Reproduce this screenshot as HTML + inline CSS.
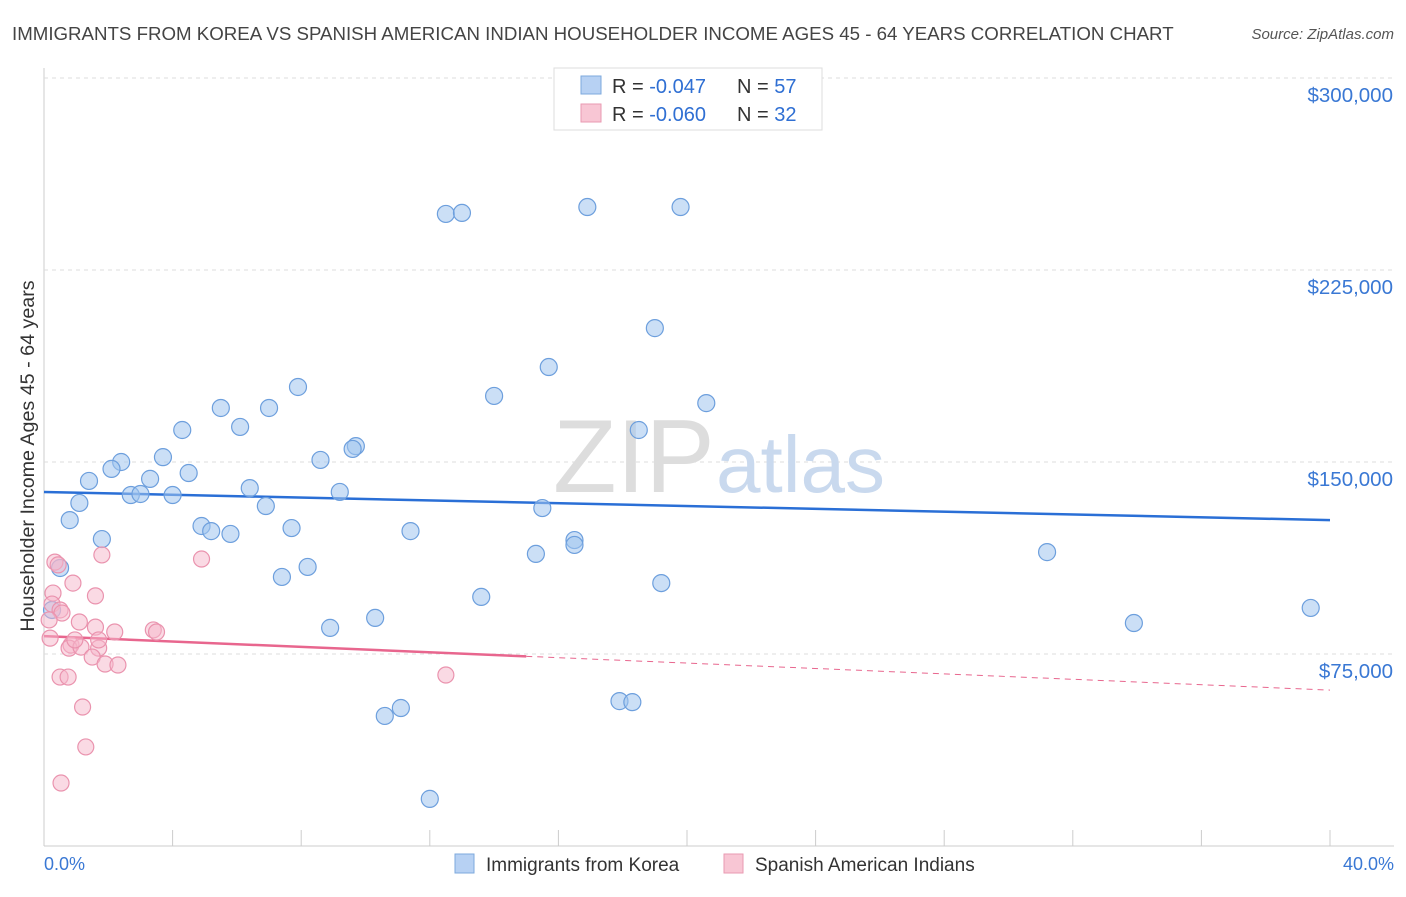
<!DOCTYPE html>
<html><head><meta charset="utf-8"><style>
body{margin:0;background:#fff;font-family:"Liberation Sans",sans-serif;}
svg text{font-family:"Liberation Sans",sans-serif;}
</style></head><body>
<svg id="chart" width="1406" height="892">
<text x="12" y="40" font-size="18.7" fill="#444">IMMIGRANTS FROM KOREA VS SPANISH AMERICAN INDIAN HOUSEHOLDER INCOME AGES 45 - 64 YEARS CORRELATION CHART</text>
<text x="1394" y="39" font-size="15" fill="#555" font-style="italic" text-anchor="end">Source: ZipAtlas.com</text>
<text x="0" y="0" transform="translate(34,456) rotate(-90)" font-size="19.7" fill="#333" text-anchor="middle">Householder Income Ages 45 - 64 years</text>
<g id="grid"></g>
<g id="wm"><text x="553" y="492" font-size="104" fill="#ddd" font-family="Liberation Serif">ZIP</text><text x="716" y="492" font-size="80" fill="#c9d9ee">atlas</text></g>
<g id="trend"></g>
<g id="pts"></g>
<g>
<rect x="554" y="68" width="268" height="62" fill="#fff" stroke="#ddd"/>
<rect x="581" y="76" width="20" height="18" fill="#b7d1f3" stroke="#7ea9dd"/>
<text x="612" y="93" font-size="20" fill="#333">R = <tspan fill="#2f6fd3">-0.047</tspan></text>
<text x="737" y="93" font-size="20" fill="#333">N = <tspan fill="#2f6fd3">57</tspan></text>
<rect x="581" y="104" width="20" height="18" fill="#f8c6d4" stroke="#e99ab2"/>
<text x="612" y="121" font-size="20" fill="#333">R = <tspan fill="#2f6fd3">-0.060</tspan></text>
<text x="737" y="121" font-size="20" fill="#333">N = <tspan fill="#2f6fd3">32</tspan></text>
</g>
<g>
<rect x="455" y="854" width="19" height="19" fill="#b7d1f3" stroke="#7ea9dd"/>
<text x="486" y="871" font-size="19" fill="#333">Immigrants from Korea</text>
<rect x="724" y="854" width="19" height="19" fill="#f8c6d4" stroke="#e99ab2"/>
<text x="755" y="871" font-size="19" fill="#333">Spanish American Indians</text>
</g>
<text x="44" y="870" font-size="18" fill="#3a78d4">0.0%</text>
<text x="1394" y="870" font-size="18" fill="#3a78d4" text-anchor="end">40.0%</text>
</svg>
<script>
const yTicks=[75000,150000,225000,300000];
const yTickLabels=["$75,000","$150,000","$225,000","$300,000"];
const koreaX=[12.5,13.0,16.9,19.8,19.0,15.7,14.0,20.6,7.9,5.5,7.0,4.3,6.1,18.5,9.7,9.6,8.6,3.7,2.4,2.1,4.5,3.3,1.4,2.7,3.0,4.0,6.4,9.2,1.1,6.9,15.5,0.8,4.9,5.2,5.8,7.7,11.4,1.8,16.5,16.5,15.3,31.2,0.5,8.2,7.4,19.2,13.6,39.4,10.3,33.9,8.9,0.25,11.1,10.6,17.9,18.3,12.0];
const koreaY=[246.9,247.3,249.6,249.6,202.3,187.1,175.8,173.0,179.3,171.1,171.1,162.5,163.7,162.5,156.2,155.1,150.8,151.9,150.0,147.3,145.7,143.4,142.6,137.1,137.5,137.1,139.8,138.3,134.0,132.8,132.0,127.3,125.0,123.0,121.9,124.2,123.0,119.9,119.5,117.6,114.1,114.8,108.6,109.0,105.1,102.7,97.3,93.0,89.1,87.1,85.2,92.2,53.9,50.8,56.6,56.2,18.4];
const spanX=[0.34,0.44,1.8,4.9,0.9,0.28,1.6,0.25,0.5,1.1,1.6,2.2,3.4,3.5,0.19,0.84,0.78,1.15,1.7,1.5,1.9,2.3,0.5,0.75,12.5,1.2,1.3,0.53,0.56,0.16,0.96,1.7];
const spanY=[110.9,109.8,113.7,112.1,102.7,98.8,97.7,94.5,92.2,87.5,85.5,83.6,84.4,83.6,81.2,78.5,77.3,77.7,77.3,73.8,71.1,70.7,66.0,66.0,66.8,54.3,38.7,24.6,91.0,88.3,80.5,80.5];
const koreaTrend=[138.3,127.3];
const spanTrend=[82.0,60.9];
const spanSolidEnd=15.0;
const NS="http://www.w3.org/2000/svg";
const xs=v=>44+v/40*1286;
const ys=v=>846-v/75*192;
function mk(t,a,p){const e=document.createElementNS(NS,t);for(const k in a)e.setAttribute(k,a[k]);document.getElementById(p).appendChild(e);return e;}
let ax=mk('line',{x1:44,y1:68,x2:44,y2:846,stroke:'#ccc'},'grid');


let bx=mk('line',{x1:44,y1:846,x2:1394,y2:846,stroke:'#ccc'},'grid');


for(let i=1;i<=10;i++){const t=mk('line',{x1:xs(i*4),y1:830,x2:xs(i*4),y2:846,stroke:'#ccc'},'grid');

}
yTicks.forEach((v,i)=>{const y=ys(v/1000);
const g=mk('line',{x1:44,y1:y,x2:1394,y2:y,stroke:'#ddd','stroke-dasharray':'4,4'},'grid');


const t=mk('text',{x:1393,y:y+24,'font-size':20.5,fill:'#3a78d4','text-anchor':'end'},'grid');t.textContent=yTickLabels[i];

});
let l1=mk('line',{x1:xs(0),y1:ys(koreaTrend[0]),x2:xs(40),y2:ys(koreaTrend[1]),stroke:'#2a6fd6','stroke-width':2.5},'trend');


const sy=v=>spanTrend[0]+(spanTrend[1]-spanTrend[0])*v/40;
let l2=mk('line',{x1:xs(0),y1:ys(sy(0)),x2:xs(spanSolidEnd),y2:ys(sy(spanSolidEnd)),stroke:'#e8668e','stroke-width':2.5},'trend');


let l3=mk('line',{x1:xs(spanSolidEnd),y1:ys(sy(spanSolidEnd)),x2:xs(40),y2:ys(sy(40)),stroke:'#e8668e','stroke-width':1,'stroke-dasharray':'6,5'},'trend');


koreaX.forEach((x,i)=>{const c=mk('circle',{cx:xs(x),cy:ys(koreaY[i]),r:8.5,fill:'rgba(160,196,238,0.55)',stroke:'#6d9fdd','stroke-width':1.2},'pts');

});
spanX.forEach((x,i)=>{const c=mk('circle',{cx:xs(x),cy:ys(spanY[i]),r:8,fill:'rgba(246,182,202,0.5)',stroke:'#ea93ae','stroke-width':1.2},'pts');

});
</script>
</body></html>
